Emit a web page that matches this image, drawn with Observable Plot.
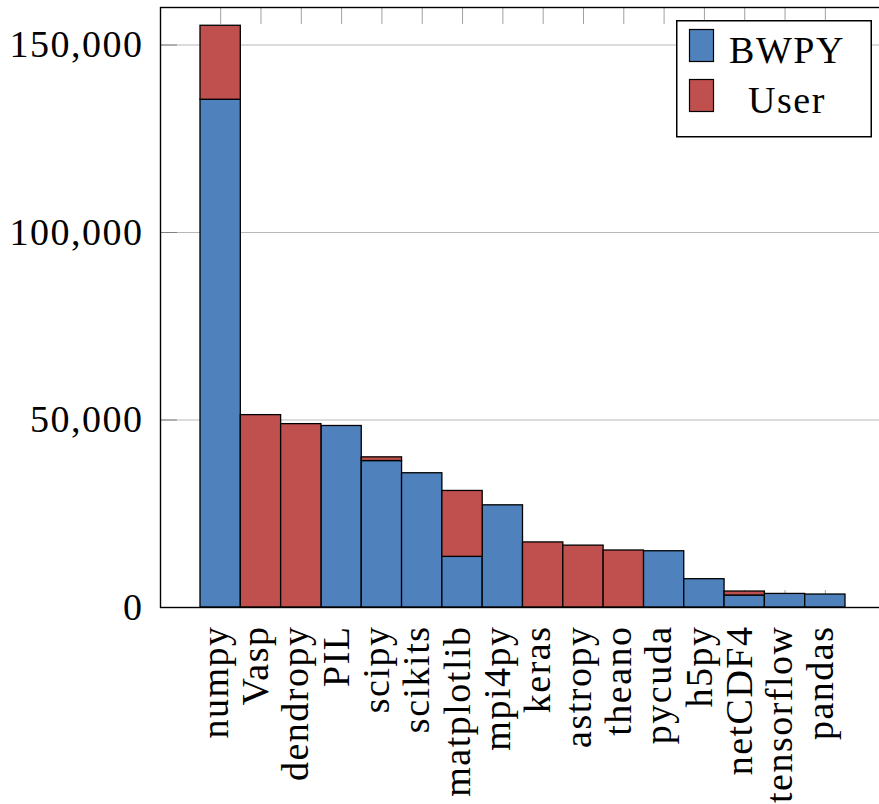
<!DOCTYPE html>
<html>
<head>
<meta charset="utf-8">
<script src="https://cdn.jsdelivr.net/npm/d3@7"></script>
<script src="https://cdn.jsdelivr.net/npm/@observablehq/plot@0.6"></script>
<style>
  html, body { margin: 0; padding: 0; overflow: hidden; background: white; }
  #wrap { position: relative; width: 879px; height: 804px; overflow: hidden; }
  #legend { position: absolute; left: 676px; top: 20px; }
</style>
</head>
<body>
<div id="wrap"></div>
<script>
const categories = ["numpy", "Vasp", "dendropy", "PIL", "scipy", "scikits", "matplotlib", "mpi4py",
  "keras", "astropy", "theano", "pycuda", "h5py", "netCDF4", "tensorflow", "pandas"];
const bwpy = [135400, 0, 0, 48400, 39050, 35800, 13500, 27250, 0, 0, 0, 15000, 7550, 3200, 3620, 3460];
const user = [19730, 51300, 48900, 0, 990, 0, 17580, 0, 17350, 16500, 15200, 0, 0, 1060, 0, 0];
const seriesNames = ["BWPY", "User"];
const seriesColors = ["#4F81BD", "#C0504D"];
const yTicks = [0, 50000, 100000, 150000];
const yMax = 160000;

const seriesValues = [bwpy, user];
const rows = [];
seriesNames.forEach((s, si) => {
  categories.forEach((c, i) => {
    const v = seriesValues[si][i];
    if (v > 0) rows.push({pkg: c, series: s, value: v});
  });
});

const W = 886, H = 804, mL = 160, mR = 0, mT = 7, mB = 197;
const plotW = W - mL - mR, plotH = H - mT - mB;
const tickLen = 17;
const hasAxisMarks = typeof Plot.axisX === "function";

const xAxisOpts = {tickRotate: -90, tickSize: 0, tickPadding: 18, label: null};
const marks = [
  Plot.ruleY(yTicks.filter(v => v > 0), {stroke: "#b8b8b8", strokeWidth: 1}),
  Plot.ruleX(categories, {stroke: "#a0a0a0", insetBottom: plotH - tickLen}),
  Plot.ruleX(categories, {stroke: "#a0a0a0", insetTop: plotH - tickLen}),
  Plot.ruleY(yTicks, {stroke: "#808080", insetRight: plotW - tickLen}),
  Plot.barY(rows, {x: "pkg", y: "value", fill: "series", stroke: "black", strokeWidth: 1.3}),
  Plot.frame({stroke: "black", strokeWidth: 1.4})
];
if (hasAxisMarks) marks.push(Plot.axisX({...xAxisOpts, dx: -5}));

const chart = Plot.plot({
  width: W,
  height: H,
  marginLeft: mL,
  marginRight: mR,
  marginTop: mT,
  marginBottom: mB,
  style: {
    fontFamily: "'Liberation Serif', 'DejaVu Serif', serif",
    fontSize: "38px",
    maxWidth: "none",
    background: "white",
    color: "black",
    letterSpacing: "1.5px"
  },
  x: hasAxisMarks
    ? {domain: categories, padding: 0, round: false, insetLeft: 40, insetRight: 41}
    : {domain: categories, padding: 0, round: false, insetLeft: 40, insetRight: 41, ...xAxisOpts},
  y: {
    domain: [0, yMax],
    ticks: yTicks,
    tickFormat: d3.format(","),
    tickSize: 0,
    tickPadding: 17,
    label: null
  },
  color: {domain: seriesNames, range: seriesColors},
  marks
});

const wrap = document.getElementById("wrap");
wrap.appendChild(chart);

// Legend overlay
const ns = "http://www.w3.org/2000/svg";
const lg = document.createElementNS(ns, "svg");
lg.setAttribute("id", "legend");
lg.setAttribute("width", 197);
lg.setAttribute("height", 118);
const box = document.createElementNS(ns, "rect");
box.setAttribute("x", 0.75); box.setAttribute("y", 0.75);
box.setAttribute("width", 194.5); box.setAttribute("height", 116);
box.setAttribute("fill", "white"); box.setAttribute("stroke", "black"); box.setAttribute("stroke-width", 1.5);
lg.appendChild(box);
seriesNames.forEach((s, i) => {
  const r = document.createElementNS(ns, "rect");
  r.setAttribute("x", 13.5); r.setAttribute("y", 9.5 + i * 50);
  r.setAttribute("width", 24); r.setAttribute("height", 32);
  r.setAttribute("fill", seriesColors[i]); r.setAttribute("stroke", "black"); r.setAttribute("stroke-width", 1.2);
  lg.appendChild(r);
  const t = document.createElementNS(ns, "text");
  t.setAttribute("x", 111); t.setAttribute("y", 43 + i * 50);
  t.setAttribute("text-anchor", "middle");
  t.setAttribute("font-family", "'Liberation Serif', 'DejaVu Serif', serif");
  t.setAttribute("font-size", 38);
  t.setAttribute("letter-spacing", "1.5px");
  t.textContent = s;
  lg.appendChild(t);
});
wrap.appendChild(lg);
</script>
</body>
</html>
